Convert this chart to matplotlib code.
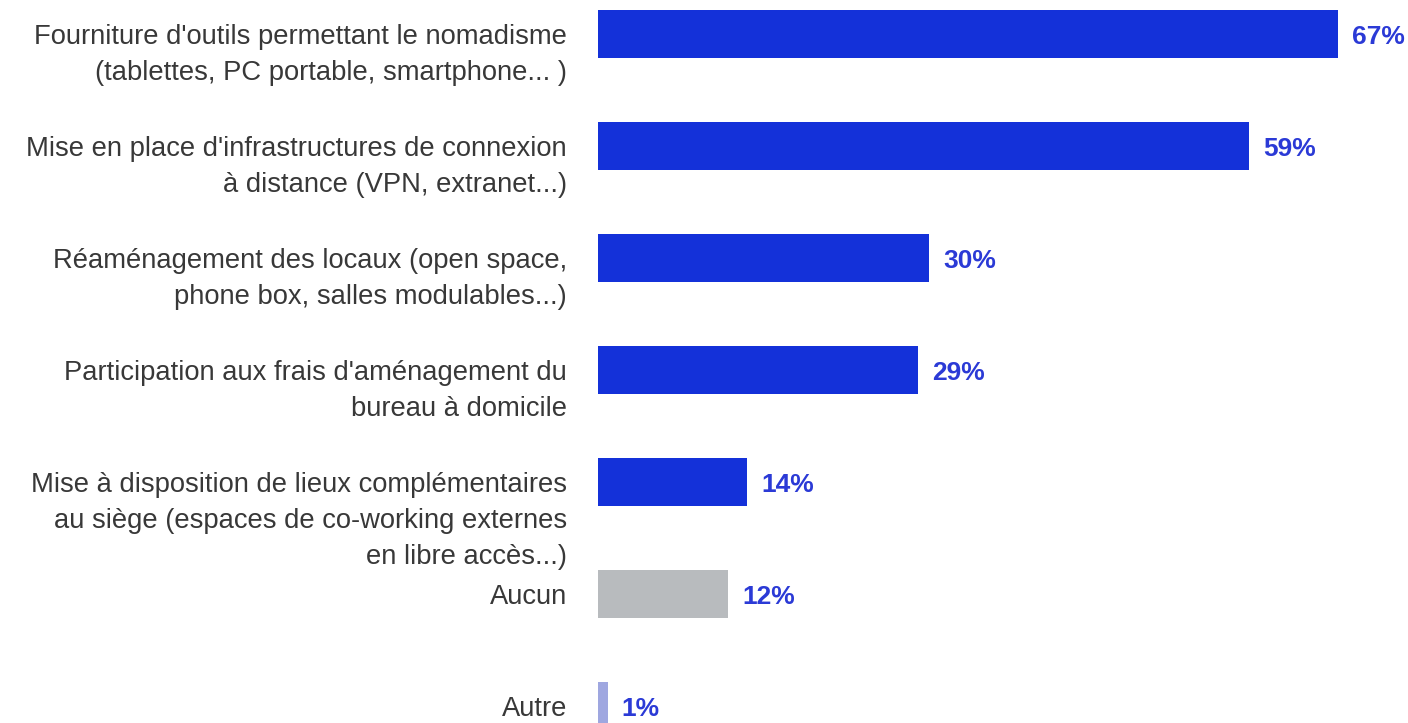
import matplotlib.pyplot as plt
from matplotlib import transforms

# data
labels = [
    "Fourniture d'outils permettant le nomadisme\n(tablettes, PC portable, smartphone... )",
    "Mise en place d'infrastructures de connexion\nà distance (VPN, extranet...)",
    "Réaménagement des locaux (open space,\nphone box, salles modulables...)",
    "Participation aux frais d'aménagement du\nbureau à domicile",
    "Mise à disposition de lieux complémentaires\nau siège (espaces de co-working externes\nen libre accès...)",
    "Aucun",
    "Autre",
]
values = [67, 59, 30, 29, 13.5, 11.8, 0.9]
value_labels = ["67%", "59%", "30%", "29%", "14%", "12%", "1%"]
colors = ["#1431d9", "#1431d9", "#1431d9", "#1431d9", "#1431d9", "#b8bbbe", "#9fa7e0"]

plt.rcParams['font.family'] = ['Liberation Sans', 'DejaVu Sans']

fig = plt.figure(figsize=(14.08, 7.23), dpi=100)
ax = fig.add_axes([598 / 1408, 0, 1 - 598 / 1408, 1])

ypos = list(range(len(values)))
ax.barh(ypos, values, height=0.43, color=colors)

ax.set_xlim(0, (1408 - 598) / 11.04)
ax.set_ylim((723 - 34) / 112, -34 / 112)
ax.axis('off')

label_tr = transforms.blended_transform_factory(fig.transFigure, ax.transData)
for y, lab in zip(ypos, labels):
    ax.text(567 / 1408, y - 0.09, lab, transform=label_tr, ha='right', va='top',
            fontsize=19.7, color='#383838', linespacing=1.5)

for y, v, vl in zip(ypos, values, value_labels):
    ax.annotate(vl, (v, y), xytext=(10, -2), textcoords='offset points',
                ha='left', va='center', fontsize=19, fontweight='bold',
                color='#2b3ad6')

fig.savefig('out.png', dpi=100)
